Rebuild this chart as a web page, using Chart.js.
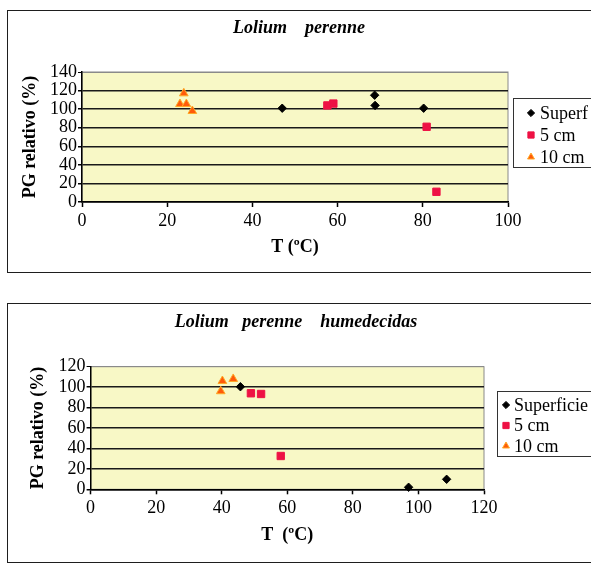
<!DOCTYPE html>
<html><head><meta charset="utf-8">
<script src="https://cdn.jsdelivr.net/npm/chart.js@4.4.1/dist/chart.umd.min.js"></script>
<style>
html,body{margin:0;padding:0;background:#fff;overflow:hidden;width:591px;height:564px;}
.frame{position:absolute;border:1.5px solid #1e1e1e;box-sizing:border-box;}
canvas{position:absolute;left:0;}
</style></head><body>
<div class="frame" style="left:7px;top:10px;width:640px;height:263px"></div>
<div class="frame" style="left:7px;top:303px;width:640px;height:260px"></div>
<canvas id="c1" width="591" height="290" style="top:0"></canvas>
<canvas id="c2" width="591" height="274" style="top:290px"></canvas>
<script>
// ---- data: chart 1 (Lolium perenne) ----
const xTicks1 = [0, 20, 40, 60, 80, 100];
const yTicks1 = [0, 20, 40, 60, 80, 100, 120, 140];
const superfX1 = [47.0, 68.7, 68.8, 80.2];
const superfY1 = [101, 115, 104, 101];
const cm5X1 = [57.6, 59.0, 80.9, 83.2];
const cm5Y1 = [104, 106, 81, 11];
const cm10X1 = [23.0, 23.9, 24.5, 25.9];
const cm10Y1 = [105.5, 117, 105.5, 98];
const labels1 = ['Superf', '5 cm', '10 cm'];
const title1 = 'Lolium    perenne';
const xTitle1 = 'T (ºC)';

// ---- data: chart 2 (Lolium perenne humedecidas) ----
const xTicks2 = [0, 20, 40, 60, 80, 100, 120];
const yTicks2 = [0, 20, 40, 60, 80, 100, 120];
const superfX2 = [45.7, 97.0, 108.6];
const superfY2 = [100.4, 2, 9.8];
const cm5X2 = [48.9, 52.0, 58.0];
const cm5Y2 = [94, 93.3, 32.6];
const cm10X2 = [40.2, 39.7, 43.5];
const cm10Y2 = [106, 96, 108];
const labels2 = ['Superficie', '5 cm', '10 cm'];
const title2 = 'Lolium   perenne    humedecidas';
const xTitle2 = 'T  (ºC)';

const yTitle = 'PG relativo (%)';

const FONT = 'Liberation Serif, Times New Roman, serif';
const pts = (xs, ys) => xs.map((x, i) => ({x: x, y: ys[i]}));

const plotBg = {
  id: 'plotBg',
  beforeDraw(chart, args, o) {
    const {ctx, chartArea: a} = chart;
    ctx.save();
    ctx.fillStyle = o.color;
    ctx.fillRect(a.left, a.top, a.width, a.height);
    ctx.strokeStyle = o.border; ctx.lineWidth = 1;
    ctx.strokeRect(a.left, a.top, a.width, a.height);
    ctx.restore();
  }
};

function drawLegendBox(chart, box, o) {
  const ctx = chart.ctx;
  const x0 = Math.round(box.left + o.gap);
  ctx.save();
  ctx.lineWidth = 1;
  ctx.strokeStyle = o.borderColor;
  ctx.strokeRect(x0 + 0.5, Math.round(o.top) + 0.5, chart.width + 10 - x0, o.height);
  ctx.font = o.font;
  ctx.textBaseline = 'middle';
  ctx.textAlign = 'left';
  chart.data.datasets.forEach((ds, i) => {
    const cy = o.top + o.first + i * o.row;
    ctx.fillStyle = ds.backgroundColor;
    ctx.strokeStyle = ds.borderColor;
    ctx.lineWidth = 1;
    Chart.helpers.drawPoint(ctx, {pointStyle: ds.pointStyle, radius: o.markerRadius[i], borderWidth: 1, rotation: 0}, x0 + o.markX, cy);
    ctx.fillStyle = '#000';
    ctx.fillText(ds.label, x0 + o.textX, cy + 1);
  });
  ctx.restore();
}

const boxLegend = {
  id: 'boxLegend',
  start(chart, args, opts) {
    const box = {
      position: 'right', weight: 1000, fullSize: false, options: {},
      left: 0, top: 0, right: 0, bottom: 0, width: 0, height: 0,
      isHorizontal() { return false; },
      update(maxWidth, maxHeight) { this.width = opts.width; this.height = maxHeight; },
      draw() { drawLegendBox(chart, this, chart.options.plugins.boxLegend); }
    };
    chart.$boxLegend = box;
    Chart.layouts.addBox(chart, box);
  },
  stop(chart) { if (chart.$boxLegend) Chart.layouts.removeBox(chart, chart.$boxLegend); }
};

function datasets(labels, sX, sY, fX, fY, tX, tY) {
  return [
    {label: labels[0], data: pts(sX, sY), pointStyle: 'rectRot', pointRadius: 4.2,
     backgroundColor: '#000000', borderColor: '#000000', borderWidth: 1, clip: false},
    {label: labels[1], data: pts(fX, fY), pointStyle: 'rect', pointRadius: 5.2,
     backgroundColor: '#ee1144', borderColor: '#ee1144', borderWidth: 1, clip: false},
    {label: labels[2], data: pts(tX, tY), pointStyle: 'triangle', pointRadius: 5,
     backgroundColor: '#ff5a0a', borderColor: '#ffa826', borderWidth: 1, clip: false}
  ];
}

function makeChart(id, c) {
  const yMax = c.yT[c.yT.length - 1];
  return new Chart(document.getElementById(id), {
    type: 'scatter',
    data: {datasets: c.ds},
    plugins: [plotBg, boxLegend],
    options: {
      responsive: false, animation: false, events: [],
      layout: {padding: {left: c.padL, right: 0, top: 0, bottom: c.padB}},
      plugins: {
        legend: {display: false}, tooltip: {enabled: false},
        title: {display: true, text: c.title, color: '#000',
          font: {family: FONT, size: 18, style: 'italic', weight: 'bold'},
          padding: {top: c.titleTop, bottom: c.titleBottom}},
        plotBg: {color: '#f8f8c6', border: '#8a8a8a'},
        boxLegend: c.legend
      },
      scales: {
        x: {type: 'linear', position: 'bottom', min: c.xT[0], max: c.xT[c.xT.length - 1],
          afterBuildTicks: s => { s.ticks = c.xT.map(v => ({value: v})); },
          afterFit: s => { s.height = 70; },
          grid: {drawOnChartArea: false, drawTicks: true, tickLength: 5, tickColor: '#000', tickWidth: 1.5},
          border: {display: true, color: '#000', width: 1.5},
          ticks: {color: '#000', font: {family: FONT, size: 18}, padding: 3, maxRotation: 0, autoSkip: false},
          title: {display: true, text: c.xTitle, color: '#000',
            font: {family: FONT, size: 18, weight: 'bold'}, padding: {top: 0, bottom: c.xTitlePad}}
        },
        y: {type: 'linear', position: 'left', min: c.yT[0], max: yMax,
          afterBuildTicks: s => { s.ticks = c.yT.map(v => ({value: v})); },
          afterFit: s => { s.width = c.yW; },
          grid: {drawOnChartArea: true, drawTicks: true, tickLength: 4, tickColor: '#000',
            color: ctx => (ctx.tick && ctx.tick.value === yMax) ? '#8a8a8a' : '#1a1a1a',
            lineWidth: ctx => (ctx.tick && ctx.tick.value === yMax) ? 1 : 1.5},
          border: {display: true, color: '#000', width: 1.5},
          ticks: {color: '#000', font: {family: FONT, size: 18}, padding: 1, autoSkip: false},
          title: {display: true, text: yTitle, color: '#000',
            font: {family: FONT, size: 18, weight: 'bold'}, padding: {top: c.yTitlePad, bottom: 0}}
        }
      }
    }
  });
}

makeChart('c1', {
  ds: datasets(labels1, superfX1, superfY1, cm5X1, cm5Y1, cm10X1, cm10Y1),
  xT: xTicks1, yT: yTicks1, title: title1, xTitle: xTitle1,
  padL: 7, padB: 18, yW: 75, yTitlePad: 12.2, xTitlePad: 14.2,
  titleTop: 17.2, titleBottom: 33.2,
  legend: {width: 83, gap: 5, top: 98, height: 69, first: 15, row: 22, markX: 18, textX: 27,
    markerRadius: [3.6, 4.4, 4], font: '18px ' + FONT, borderColor: '#333'}
});

makeChart('c2', {
  ds: datasets(labels2, superfX2, superfY2, cm5X2, cm5Y2, cm10X2, cm10Y2),
  xT: xTicks2, yT: yTicks2, title: title2, xTitle: xTitle2,
  padL: 1, padB: 4.7, yW: 89.6, yTitlePad: 26.2, xTitlePad: 13.5,
  titleTop: 21.2, titleBottom: 33.9,
  legend: {width: 107, gap: 13, top: 101, height: 65, first: 14, row: 20.5, markX: 9, textX: 17,
    markerRadius: [3.6, 4.4, 4], font: '18px ' + FONT, borderColor: '#333'}
});
</script>
</body></html>
